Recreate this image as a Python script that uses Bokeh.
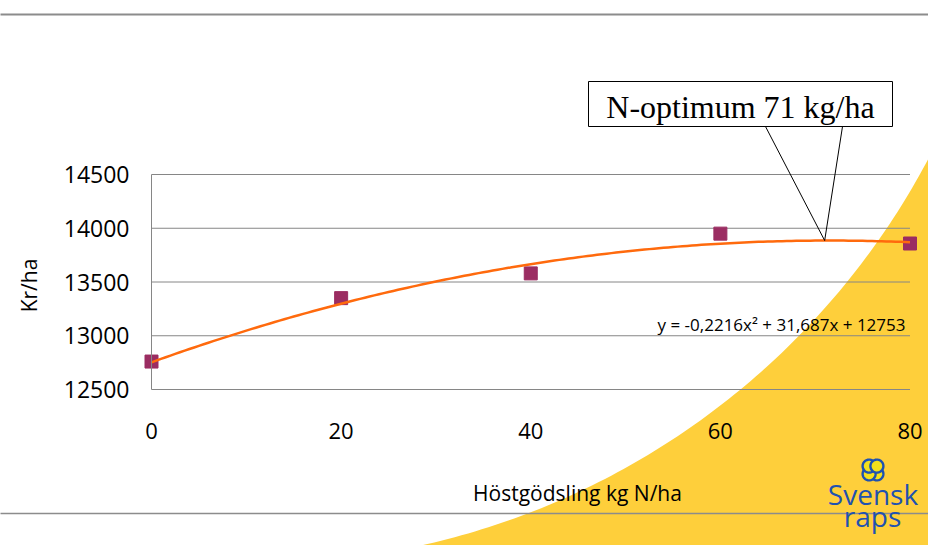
import numpy as np
from bokeh.plotting import figure
from bokeh.models import Label, PolyAnnotation, Range1d, FixedTicker
from bokeh.embed import file_html
from bokeh.resources import INLINE

# ---- data ----
x_vals = [0, 20, 40, 60, 80]
y_vals = [12760, 13350, 13580, 13950, 13858]
x_ticks = [0, 20, 40, 60, 80]
y_ticks = [12500, 13000, 13500, 14000, 14500]
trend_coef = [-0.2216, 31.687, 12753]
n_opt = 71
eq_text = "y = -0,2216x\u00b2 + 31,687x + 12753"
callout_text = "N-optimum 71 kg/ha"
x_title = "H\u00f6stg\u00f6dsling kg N/ha"
y_title = "Kr/ha"
logo_lines = ["Svensk", "raps"]

# ---- page geometry: the frame covers the whole canvas ----
W_TOT, H_TOT = 928, 545
PX0, PXS = 151.0, 9.48125     # px of x=0, px per x unit
PY0, PYS = 389.0, 0.1075      # px of y=12500, px per y unit


def rx(px):
    return (px - PX0) / PXS


def ry(py):
    return 12500 + (PY0 - py) / PYS


X0, X1 = rx(0), rx(W_TOT)
Y0, Y1 = ry(H_TOT), ry(0)

p = figure(frame_width=W_TOT, frame_height=H_TOT,
           x_range=Range1d(X0, X1), y_range=Range1d(Y0, Y1),
           min_border=0, min_border_left=0, min_border_right=0,
           min_border_top=0, min_border_bottom=0,
           output_backend="svg", toolbar_location=None,
           background_fill_color="white", border_fill_color="white",
           outline_line_color=None)
p.xgrid.visible = False
p.ygrid.visible = False

GRAY = "#868686"
FONT = "Open Sans"

# yellow background swoosh (outside a large circle)
cx, cy, r = 256.0, -197.0, 760.0
t_a = np.arccos((950 - cx) / r)
t_b = np.arcsin((562 - cy) / r)
ts = np.linspace(t_a, t_b, 120)
sx = list(cx + r * np.cos(ts)) + [950, 950]
sy = list(cy + r * np.sin(ts)) + [562, cy + r * np.sin(t_a)]
p.add_layout(PolyAnnotation(xs=[rx(v) for v in sx], ys=[ry(v) for v in sy],
                            fill_color="#FECF3B", fill_alpha=1.0,
                            line_color=None, level="underlay"))

# slide lines
for yy, lw in ((14, 2), (513, 1.5)):
    p.add_layout(PolyAnnotation(xs=[rx(-20), rx(950)], ys=[ry(yy), ry(yy)],
                                fill_alpha=0.0, line_color="#8C8C8C",
                                line_alpha=1.0, line_width=lw, level="underlay"))

# gridlines (from x 0 to 80)
p.segment(x0=min(x_ticks), x1=max(x_ticks), y0=y_ticks, y1=y_ticks,
          line_color=GRAY, line_width=1)

# axes, placed at the data origin inside the frame
p.yaxis.fixed_location = min(x_ticks)
p.yaxis.bounds = (min(y_ticks), max(y_ticks))
p.yaxis.ticker = FixedTicker(ticks=y_ticks)
p.yaxis.axis_line_color = GRAY
p.yaxis.major_tick_line_color = None
p.yaxis.minor_tick_line_color = None
p.yaxis.major_label_standoff = 16
p.yaxis.major_label_text_font = FONT
p.yaxis.major_label_text_font_size = "23px"
p.yaxis.major_label_text_color = "black"

p.xaxis.fixed_location = min(y_ticks)
p.xaxis.bounds = (min(x_ticks), max(x_ticks))
p.xaxis.ticker = FixedTicker(ticks=x_ticks)
p.xaxis.axis_line_color = None
p.xaxis.major_tick_line_color = None
p.xaxis.minor_tick_line_color = None
p.xaxis.major_label_standoff = 27
p.xaxis.major_label_text_font = FONT
p.xaxis.major_label_text_font_size = "22px"
p.xaxis.major_label_text_color = "black"

# data points and trendline
p.scatter(x_vals, y_vals, marker="square", size=13,
          fill_color="#9B2D62", line_color="#9B2D62")
tx = np.linspace(min(x_vals), max(x_vals), 161)
ty = np.polyval(trend_coef, tx)
p.line(tx, ty, line_color="#FF6A0D", line_width=2.5)


def text_at(px, py, text, size, font=FONT, color="black", align="center"):
    # py is the wanted alphabetic baseline; compensate renderer offset
    p.add_layout(Label(x=rx(px), y=ry(py - 0.33 * size), text=text,
                       text_align=align, text_baseline="alphabetic",
                       text_font=font, text_font_size=f"{size}px",
                       text_color=color))


# axis titles
text_at(577, 499, x_title, 21)
p.add_layout(Label(x=rx(28), y=ry(285), text=y_title, text_align="center",
                   text_baseline="middle", angle=np.pi / 2, text_font=FONT,
                   text_font_size="21px", text_color="black"))

# equation
text_at(905, 330, eq_text, 17, align="right")

# callout
bx = [588, 892, 892, 588]
by = [81, 81, 126, 126]
p.add_layout(PolyAnnotation(xs=[rx(v) for v in bx], ys=[ry(v) for v in by],
                            fill_color="white", fill_alpha=1.0,
                            line_color="black", line_alpha=1.0, line_width=1))
tip_y = float(np.polyval(trend_coef, n_opt))
p.add_layout(PolyAnnotation(xs=[rx(765), n_opt, rx(842)],
                            ys=[ry(126), tip_y, ry(126)],
                            fill_alpha=0.0, line_color="black",
                            line_alpha=1.0, line_width=1))
text_at(740, 117, callout_text, 32, font="Liberation Serif")

# logo
BLUE = "#1F52B0"
lcx, lcy = 872.5, 469.5
for ang in (45, 135, 225, 315):
    a = np.deg2rad(ang)
    ccx, ccy = lcx + 5.5 * np.cos(a), lcy + 5.5 * np.sin(a)
    tt = np.linspace(0, 2 * np.pi, 40)
    p.add_layout(PolyAnnotation(xs=[rx(v) for v in ccx + 6.5 * np.cos(tt)],
                                ys=[ry(v) for v in ccy + 6.5 * np.sin(tt)],
                                fill_color="#F4E01C", fill_alpha=1.0,
                                line_color=BLUE, line_alpha=1.0, line_width=2.4))
text_at(872.5, 503, logo_lines[0], 28, color=BLUE)
text_at(872, 525, logo_lines[1], 28, color=BLUE)

open("out.html", "w").write(file_html(p, INLINE))
